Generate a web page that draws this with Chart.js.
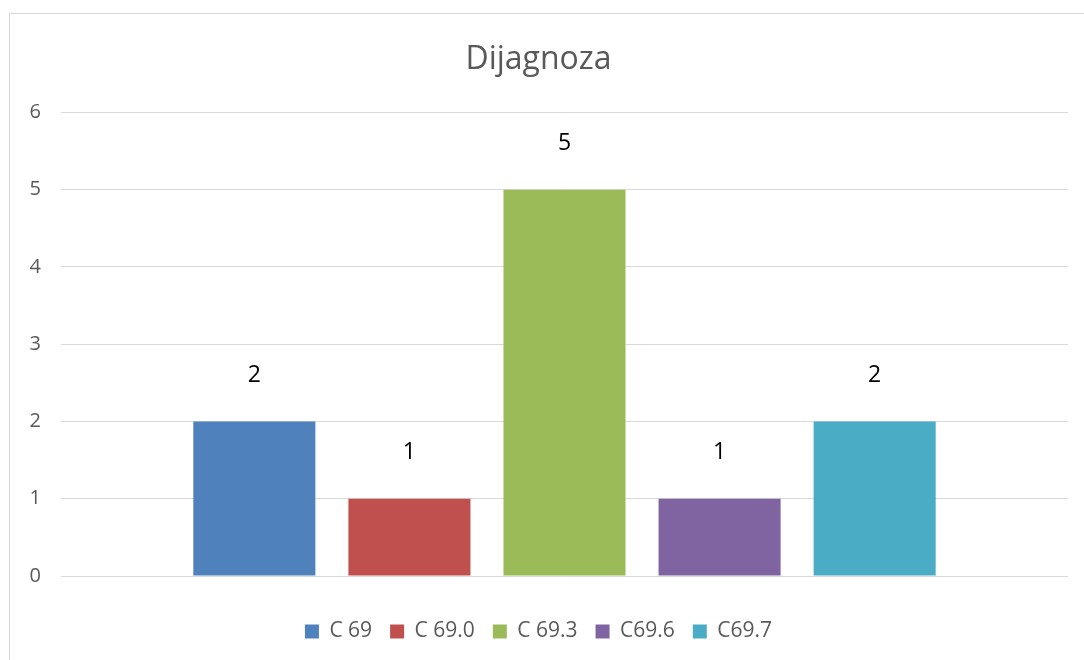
<!DOCTYPE html>
<html>
<head>
<meta charset="utf-8">
<script src="https://cdn.jsdelivr.net/npm/chart.js@4.4.0/dist/chart.umd.min.js"></script>
<style>
    html, body { margin: 0; padding: 0; background: #fff; }
    #box { width: 1084px; height: 660px; }
</style>
</head>
<body>
<div id="box"><canvas id="grafico"></canvas></div>
<script>
var dijagnoze = ['C 69', 'C 69.0', 'C 69.3', 'C69.6', 'C69.7'];
var brojevi = [2, 1, 5, 1, 2];
var boje = ['#4F81BD', '#C0504D', '#9BBB59', '#8064A2', '#4BACC6'];
var yTicks = [0, 1, 2, 3, 4, 5, 6];

var fontFamily = "'Open Sans', sans-serif";

var datasets = [];
for (var i = 0; i < dijagnoze.length; i++) {
    datasets.push({
        label: dijagnoze[i],
        data: [brojevi[i]],
        backgroundColor: boje[i],
        borderWidth: 0,
        categoryPercentage: 0.77,
        barPercentage: 0.787
    });
}

var okvirPlugin = {
    id: 'okvir',
    beforeDraw: function(chart) {
        var ctx = chart.ctx;
        ctx.save();
        ctx.strokeStyle = '#d9d9d9';
        ctx.lineWidth = 1;
        ctx.strokeRect(9.5, 13.5, 1200, 800);
        ctx.restore();
    }
};

var oznakePlugin = {
    id: 'oznake',
    afterDatasetsDraw: function(chart) {
        var ctx = chart.ctx;
        ctx.save();
        ctx.font = "23px " + fontFamily;
        ctx.fillStyle = '#000';
        ctx.textAlign = 'center';
        ctx.textBaseline = 'middle';
        chart.data.datasets.forEach(function(ds, i) {
            var bar = chart.getDatasetMeta(i).data[0];
            ctx.fillText(ds.data[0], bar.x, bar.y - 46);
        });
        ctx.restore();
    }
};

new Chart(document.getElementById('grafico'), {
    type: 'bar',
    data: {
        labels: [''],
        datasets: datasets
    },
    options: {
        responsive: true,
        maintainAspectRatio: false,
        animation: false,
        layout: {
            padding: { left: 9, right: 16, top: 0, bottom: 8 }
        },
        scales: {
            x: {
                grid: { display: false },
                border: { display: false },
                ticks: { display: false },
                afterFit: function(scale) { scale.height = 27; }
            },
            y: {
                min: 0,
                max: 6,
                afterBuildTicks: function(scale) {
                    scale.ticks = yTicks.map(function(v) { return { value: v }; });
                },
                grid: { color: '#d9d9d9', lineWidth: 1, drawTicks: false },
                border: { display: false },
                ticks: {
                    padding: 20,
                    color: '#595959',
                    font: { size: 20, family: fontFamily }
                },
                afterFit: function(scale) { scale.width = 52; }
            }
        },
        plugins: {
            title: {
                display: true,
                text: 'Dijagnoza',
                color: '#595959',
                font: { size: 32, family: fontFamily, weight: 'normal' },
                padding: { top: 41, bottom: 33 }
            },
            legend: {
                position: 'bottom',
                labels: {
                    boxWidth: 14,
                    boxHeight: 14,
                    padding: 18,
                    color: '#595959',
                    font: { size: 21, family: fontFamily }
                }
            },
            tooltip: { enabled: false }
        }
    },
    plugins: [okvirPlugin, oznakePlugin]
});
</script>
</body>
</html>
